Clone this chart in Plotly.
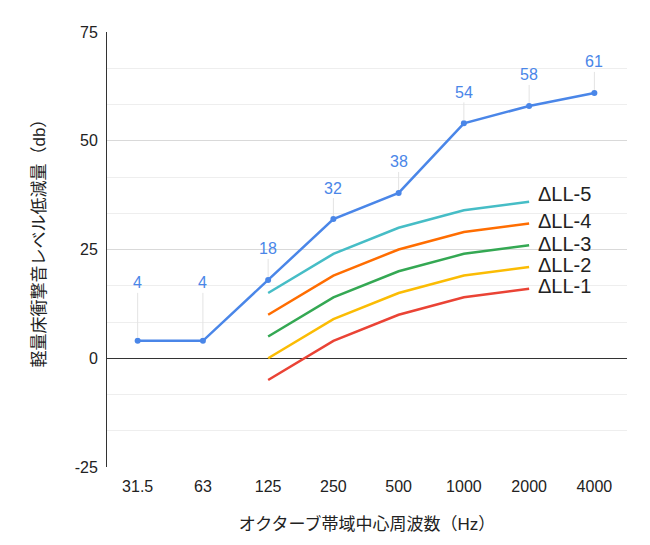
import plotly.graph_objects as go

freqs = ["31.5", "63", "125", "250", "500", "1000", "2000", "4000"]
main_vals = [4, 4, 18, 32, 38, 54, 58, 61]
dll_freqs = ["125", "250", "500", "1000", "2000"]
dll_names = ["ΔLL-1", "ΔLL-2", "ΔLL-3", "ΔLL-4", "ΔLL-5"]
dll_vals = [
    [-5, 4, 10, 14, 16],
    [0, 9, 15, 19, 21],
    [5, 14, 20, 24, 26],
    [10, 19, 25, 29, 31],
    [15, 24, 30, 34, 36],
]
y_ticks = [-25, 0, 25, 50, 75]
y_ticktext = ["-25", "0", "25", "50", "75"]
y_title = "軽量床衝撃音レベル低減量（db）"
x_title = "オクターブ帯域中心周波数（Hz）"
dll_colors = ["#ea4335", "#fbbc04", "#34a853", "#ff6d01", "#46bdc6"]
label_shift = [3, 2, 1, 2, 8]
main_color = "#4a86e8"

FONT = "Liberation Sans, Arial, Noto Sans CJK JP, sans-serif"

fig = go.Figure()
for name, vals, col in zip(dll_names, dll_vals, dll_colors):
    fig.add_trace(go.Scatter(x=dll_freqs, y=vals, mode="lines", name=name,
                             line=dict(color=col, width=2.5), hoverinfo="skip"))

fig.add_trace(go.Scatter(x=freqs, y=main_vals, mode="lines+markers", name="main",
                         line=dict(color=main_color, width=2.5),
                         marker=dict(size=6, color=main_color)))

for i, v in enumerate(main_vals):
    ay = -58 if v < 10 else -31
    fig.add_annotation(x=i, y=v, xref="x", yref="y", text=str(v), showarrow=True,
                       arrowhead=0, arrowwidth=1, arrowcolor="#e3e3e3",
                       ax=0, ay=ay, standoff=3,
                       font=dict(family=FONT, size=16, color=main_color))

last_idx = freqs.index(dll_freqs[-1])
for name, vals, sh in zip(dll_names, dll_vals, label_shift):
    fig.add_annotation(x=last_idx, y=vals[-1], xref="x", yref="y", text=name,
                       showarrow=False, xanchor="left", xshift=7, yshift=sh,
                       font=dict(family=FONT, size=20, color="#222222"))

# y-axis title as rotated text
fig.add_annotation(x=-0.129, y=0.525, xref="paper", yref="paper", text=y_title,
                   showarrow=False, textangle=-90, xanchor="center", yanchor="middle",
                   font=dict(family=FONT, size=17, color="#222222"))

fig.update_layout(
    width=650, height=545,
    margin=dict(l=107, r=23, t=32, b=78),
    paper_bgcolor="white", plot_bgcolor="white",
    showlegend=False,
    font=dict(family=FONT, size=16, color="#222222"),
    xaxis=dict(type="category", categoryorder="array", categoryarray=freqs,
               range=[-0.47, 7.5], showgrid=False, zeroline=False, showline=False,
               ticks="", ticklabelstandoff=8, tickfont=dict(size=16, color="#222222"),
               title=dict(text=x_title, standoff=24,
                          font=dict(size=17, color="#222222"))),
    yaxis=dict(range=[-25, 75], tickvals=y_ticks, ticktext=y_ticktext, showgrid=True,
               gridcolor="#d9d9d9", gridwidth=1,
               minor=dict(tickvals=[-50/3, -25/3, 25/3, 50/3, 100/3, 125/3, 175/3, 200/3],
                          showgrid=True, gridcolor="#eeeeee", gridwidth=1),
               zeroline=True, zerolinecolor="#333333", zerolinewidth=1,
               showline=True, linecolor="#333333", linewidth=1,
               ticks="", ticklabelstandoff=5,
               tickfont=dict(size=16, color="#222222")),
)

fig.write_html("out.html")
